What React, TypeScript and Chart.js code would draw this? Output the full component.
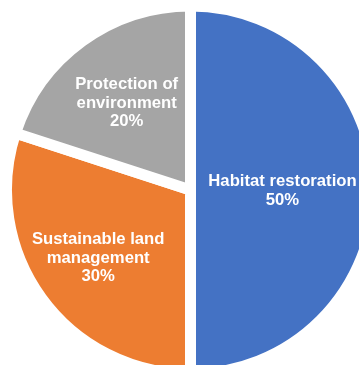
import React, { useEffect, useRef } from "react";
import { Chart, registerables } from "chart.js";

Chart.register(...registerables);

const categories = ["Habitat restoration", "Sustainable land management", "Protection of environment"];
const labelLines = [["Habitat restoration"], ["Sustainable land", "management"], ["Protection of", "environment"]];
const values = [50, 30, 20];
const colors = ["#4472C4", "#ED7D31", "#A5A5A5"];
const labelRadiusFraction = [0.5, 0.62, 0.59];

const labelPlugin = {
  id: "sliceLabels",
  afterDatasetsDraw(chart: any) {
    const ctx = chart.ctx;
    const meta = chart.getDatasetMeta(0);
    const total = values.reduce((a, b) => a + b, 0);
    ctx.save();
    ctx.fillStyle = "#FFFFFF";
    ctx.font = "bold 16.7px 'Liberation Sans', Arial, sans-serif";
    ctx.textAlign = "center";
    ctx.textBaseline = "middle";
    const lineH = 18.4;
    meta.data.forEach((arc: any, i: number) => {
      const { x, y, startAngle, endAngle, outerRadius } = arc.getProps(
        ["x", "y", "startAngle", "endAngle", "outerRadius"],
        true
      );
      const mid = (startAngle + endAngle) / 2;
      const r = outerRadius * labelRadiusFraction[i];
      const cx = x + Math.cos(mid) * r;
      const cy = y + Math.sin(mid) * r;
      const lines = [...labelLines[i], Math.round((values[i] / total) * 100) + "%"];
      const top = cy - ((lines.length - 1) * lineH) / 2 + 1;
      lines.forEach((t, k) => ctx.fillText(t, cx, top + k * lineH));
    });
    ctx.restore();
  },
};

export default function App() {
  const ref = useRef<HTMLCanvasElement | null>(null);
  useEffect(() => {
    if (!ref.current) return;
    const chart = new Chart(ref.current, {
      type: "pie",
      data: {
        labels: categories,
        datasets: [
          {
            data: values,
            backgroundColor: colors,
            borderColor: "#FFFFFF",
            borderWidth: 11,
            clip: false as any,
          } as any,
        ],
      },
      options: {
        animation: false,
        responsive: false,
        events: [],
        radius: 184,
        layout: { padding: { left: 22, top: 15, right: 0, bottom: 0 } },
        plugins: { legend: { display: false }, tooltip: { enabled: false } },
      } as any,
      plugins: [labelPlugin],
    });
    return () => chart.destroy();
  }, []);
  return (
    <div style={{ position: "fixed", left: 0, top: 0, width: 359, height: 365, background: "#fff", overflow: "hidden" }}>
      <canvas ref={ref} width={359} height={365} style={{ display: "block", width: 359, height: 365 }} />
    </div>
  );
}
